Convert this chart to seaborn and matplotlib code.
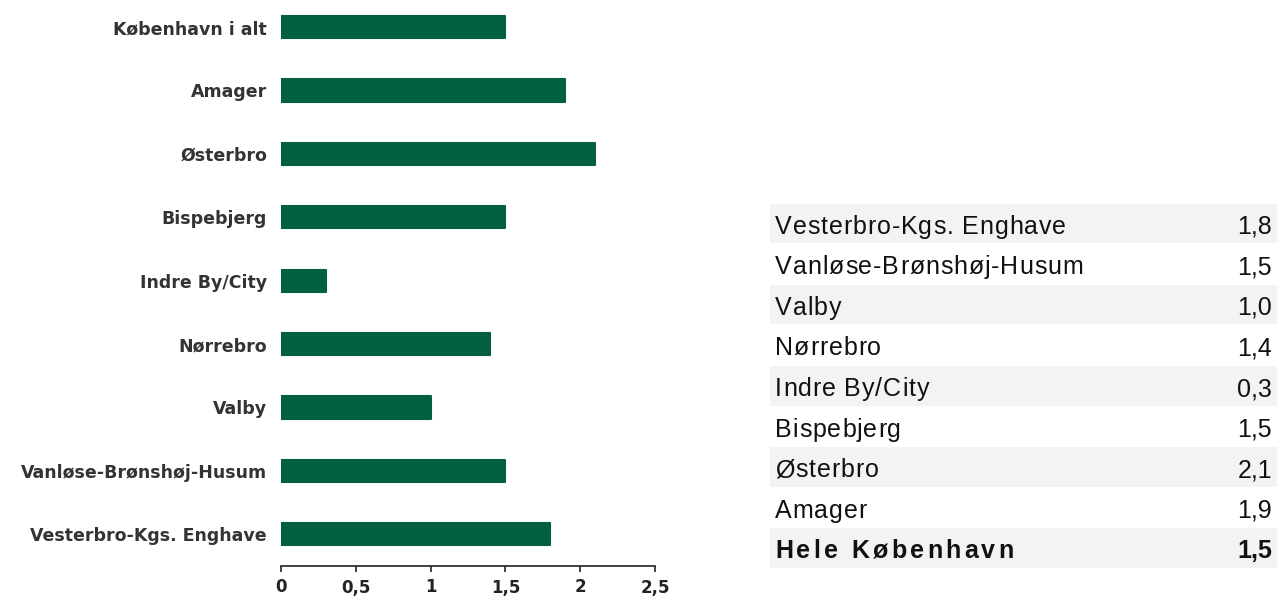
import pandas as pd
import seaborn as sns
import matplotlib.pyplot as plt
from matplotlib import font_manager, ft2font
from matplotlib.ticker import FuncFormatter

# Data
districts = ["København i alt", "Amager", "Østerbro", "Bispebjerg", "Indre By/City",
             "Nørrebro", "Valby", "Vanløse-Brønshøj-Husum", "Vesterbro-Kgs. Enghave"]
values = [1.5, 1.9, 2.1, 1.5, 0.3, 1.4, 1.0, 1.5, 1.8]

table_names = ["Vesterbro-Kgs. Enghave", "Vanløse-Brønshøj-Husum", "Valby", "Nørrebro",
               "Indre By/City", "Bispebjerg", "Østerbro", "Amager", "Hele København"]
table_values = ["1,8", "1,5", "1,0", "1,4", "0,3", "1,5", "2,1", "1,9", "1,5"]

df = pd.DataFrame({'district': districts, 'value': values})

sns.set_style('white')
plt.rcParams['font.family'] = ['DejaVu Sans']

W, H = 1277, 596
fig = plt.figure(figsize=(W / 100, H / 100), dpi=100)

# Bar chart
ax = fig.add_axes([281 / W, 30 / H, (655 - 281) / W, (596 - 30) / H])
green = '#03603f'
sns.barplot(data=df, x='value', y='district', orient='h', color=green, saturation=1,
            width=0.35, edgecolor=green, linewidth=1.5, ax=ax)
for p in ax.patches:
    p.set_joinstyle('round')

ax.set_xlim(0, 2.5)
ax.set_ylim(8.5, -0.426)
ax.set_xticks([0, 0.5, 1, 1.5, 2, 2.5])
ax.xaxis.set_major_formatter(FuncFormatter(lambda v, pos: ('%g' % v).replace('.', ',')))
ax.set_xlabel('')
ax.set_ylabel('')
for s in ['top', 'right', 'left']:
    ax.spines[s].set_visible(False)
ax.spines['bottom'].set_color('#222222')
ax.spines['bottom'].set_linewidth(1.2)
ax.tick_params(axis='x', bottom=True, direction='out', length=4, width=1.2, color='#222222',
               pad=5, labelsize=12, labelcolor='#222222')
ax.tick_params(axis='y', left=False, length=0, pad=10, labelsize=12.5, labelcolor='#333333')
for lab in ax.get_xticklabels() + ax.get_yticklabels():
    lab.set_fontweight('bold')

# Table on the right
top, row_h = 204, (569 - 204) / len(table_names)
tx = fig.add_axes([770 / W, (H - 569) / H, (W - 770) / W, (569 - 204) / H])
tx.set_xlim(0, 1)
tx.set_ylim(len(table_names), 0)
tx.axis('off')


def spaced_text(x, y, s, gap, weight):
    # draw text letter by letter with extra spacing (pixel coords from top)
    fp = font_manager.FontProperties(family='Liberation Sans', weight=weight)
    f = ft2font.FT2Font(font_manager.findfont(fp))
    f.set_size(18, 100)
    for c in s:
        fig.text(x / W, 1 - y / H, c, fontproperties=fp, fontsize=18,
                 va='baseline', ha='left', color='#111111')
        x += f.load_char(ord(c)).linearHoriAdvance / 65536 + gap


for i, (name, val) in enumerate(zip(table_names, table_values)):
    if i % 2 == 0:
        tx.axhspan(i, i + 0.97, color='#f3f3f2', lw=0)
    bold = (i == len(table_names) - 1)
    base = top + (i + 0.5) * row_h + 9.5
    spaced_text(775, base, name, 3.3 if bold else 0.9, 'bold' if bold else 'normal')
    fig.text(1272 / W, 1 - base / H, val, va='baseline', ha='right', fontsize=18,
             family='Liberation Sans', fontweight='bold' if bold else 'normal', color='#111111')

fig.savefig('out.png', dpi=100)
